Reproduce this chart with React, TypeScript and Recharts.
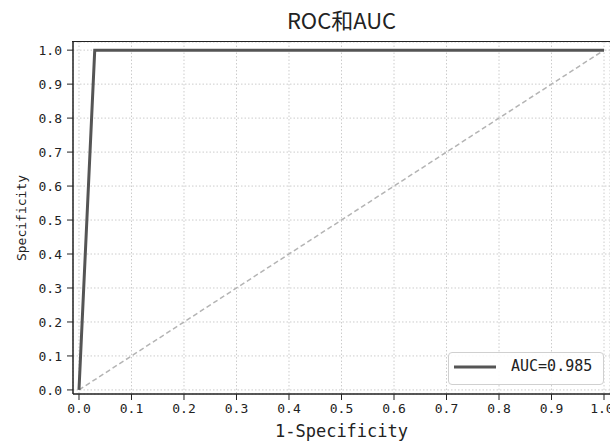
import {
  LineChart,
  Line,
  XAxis,
  YAxis,
  CartesianGrid,
  Legend,
} from "recharts";

// ROC curve points (false positive rate / true positive rate)
const rocFpr = [0, 0.03, 1];
const rocTpr = [0, 1, 1];

// chance diagonal
const diagFpr = [0, 1];
const diagTpr = [0, 1];

const axisTicks = [0, 0.1, 0.2, 0.3, 0.4, 0.5, 0.6, 0.7, 0.8, 0.9, 1.0];

const title = "ROC和AUC";
const xLabel = "1-Specificity";
const yLabel = "Specificity";
const aucLabel = "AUC=0.985";

const MONO = "'DejaVu Sans Mono', monospace";
const TEXT = "#222";

const rocData = rocFpr.map((x, i) => ({ x, y: rocTpr[i] }));
const diagData = diagFpr.map((x, i) => ({ x, y: diagTpr[i] }));

const LegendBox = () => (
  <div
    style={{
      boxSizing: "border-box",
      width: 156,
      height: 33,
      border: "1px solid #d0d0d0",
      borderRadius: 4,
      background: "rgba(255,255,255,0.9)",
      display: "flex",
      alignItems: "center",
      paddingLeft: 5,
      paddingBottom: 4,
    }}
  >
    <svg width={42} height={6} style={{ display: "block" }}>
      <line x1={0} y1={3} x2={42} y2={3} stroke="#555" strokeWidth={3} />
    </svg>
    <span
      style={{
        marginLeft: 15,
        fontFamily: MONO,
        fontSize: 15,
        color: TEXT,
        lineHeight: "15px",
      }}
    >
      {aucLabel}
    </span>
  </div>
);

export default function App() {
  return (
    <div
      style={{
        position: "absolute",
        left: 0,
        top: 0,
        width: 610,
        height: 443,
        background: "#fff",
        overflow: "hidden",
      }}
    >
      <div
        style={{
          position: "absolute",
          left: 73,
          width: 537,
          top: 8,
          textAlign: "center",
          fontFamily: "'Noto Sans CJK SC', sans-serif",
          fontSize: 22,
          lineHeight: "22px",
          color: TEXT,
        }}
      >
        {title}
      </div>
      <LineChart
        width={610}
        height={443}
        margin={{ top: 42, right: 0, bottom: 0, left: 0 }}
      >
        <CartesianGrid
          stroke="#cccccc"
          strokeDasharray="1.5 2"
          strokeWidth={1}
        />
        <XAxis
          dataKey="x"
          type="number"
          domain={[-0.0114, 1.0114]}
          allowDataOverflow
          ticks={axisTicks}
          tickFormatter={(v: number) => v.toFixed(1)}
          height={49}
          tickSize={6}
          tickMargin={4}
          stroke="#222"
          axisLine={{ stroke: "#222", strokeWidth: 1.5 }}
          tick={{ fill: TEXT, fontSize: 13, fontFamily: MONO }}
          label={{
            value: xLabel,
            position: "insideBottom",
            offset: 6,
            fill: TEXT,
            fontSize: 17,
            fontFamily: MONO,
          }}
        />
        <YAxis
          type="number"
          domain={[-0.012, 1.024]}
          allowDataOverflow
          ticks={axisTicks}
          tickFormatter={(v: number) => v.toFixed(1)}
          width={73}
          tickSize={6}
          tickMargin={5}
          stroke="#222"
          axisLine={{ stroke: "#222", strokeWidth: 1.5 }}
          tick={{ fill: TEXT, fontSize: 13, fontFamily: MONO }}
          label={{
            value: yLabel,
            position: "insideLeft",
            angle: -90,
            offset: 21,
            fill: TEXT,
            fontSize: 13,
            fontFamily: MONO,
            style: { textAnchor: "middle" },
          }}
        />
        <Line
          data={diagData}
          dataKey="y"
          type="linear"
          stroke="#b4b4b4"
          strokeWidth={1.5}
          strokeDasharray="5 3"
          dot={false}
          isAnimationActive={false}
          legendType="none"
        />
        <Line
          data={rocData}
          dataKey="y"
          name={aucLabel}
          type="linear"
          stroke="#555"
          strokeWidth={3}
          dot={false}
          isAnimationActive={false}
        />
        <Legend
          layout="horizontal"
          verticalAlign="middle"
          align="center"
          content={() => <LegendBox />}
          wrapperStyle={{ left: 448, top: 352, width: 156, height: 33 }}
        />
      </LineChart>
      {/* top spine of the plot frame (right spine falls just past the edge) */}
      <div
        style={{
          position: "absolute",
          left: 72,
          top: 41,
          width: 540,
          height: 352,
          borderTop: "1.5px solid #222",
          borderRight: "1.5px solid #222",
          pointerEvents: "none",
        }}
      />
    </div>
  );
}
